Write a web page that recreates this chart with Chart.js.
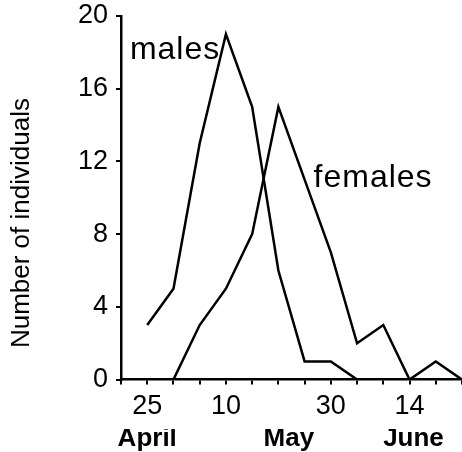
<!DOCTYPE html>
<html>
<head>
<meta charset="utf-8">
<script src="https://cdn.jsdelivr.net/npm/chart.js@4"></script>
<style>
  html, body { margin: 0; padding: 0; background: #fff; }
  #wrap { width: 462px; height: 452px; }
</style>
</head>
<body>
<div id="wrap"><canvas id="chart" width="462" height="452"></canvas></div>
<script>
// 5-day sampling, starting 20 April
const dayLabels = ['', '25', '', '', '10', '', '', '', '30', '', '', '14', '', ''];
const males = [null, 3, 5, 13, 19, 15, 6, 1, 1, 0, null, null, null, null];
const females = [null, null, 0, 3, 5, 8, 15, 11, 7, 2, 3, 0, 1, 0];
const monthLabels = ['April', 'May', 'June'];
const monthAt = [1, 6.4, 11.15];
const yTicks = [0, 4, 8, 12, 16, 20];

const FONT = 'Arial, "Liberation Sans", Helvetica, sans-serif';

const seriesNames = {
  id: 'seriesNames',
  afterDatasetsDraw(chart) {
    const { ctx, scales } = chart;
    ctx.save();
    ctx.fillStyle = '#000';
    ctx.font = '32px ' + FONT;
    if ('letterSpacing' in ctx) ctx.letterSpacing = '1px';
    ctx.textBaseline = 'middle';
    ctx.textAlign = 'left';
    ctx.fillText('males', scales.x.getPixelForValue(0.34), scales.y.getPixelForValue(18.1));
    ctx.fillText('females', scales.x.getPixelForValue(7.34), scales.y.getPixelForValue(11.1));
    ctx.restore();
  }
};

const noSidePad = (scale) => { scale.paddingLeft = 0; scale.paddingRight = 0; };

new Chart(document.getElementById('chart').getContext('2d'), {
  type: 'line',
  data: {
    labels: dayLabels,
    datasets: [
      { label: 'males', data: males, borderColor: '#000', borderWidth: 2.5, pointRadius: 0, tension: 0 },
      { label: 'females', data: females, borderColor: '#000', borderWidth: 2.5, pointRadius: 0, tension: 0 },
    ],
  },
  options: {
    responsive: false,
    animation: false,
    layout: { padding: { top: 16, right: 0, bottom: 0, left: 0 } },
    plugins: { legend: { display: false }, tooltip: { enabled: false } },
    scales: {
      x: {
        type: 'category',
        offset: false,
        afterFit: noSidePad,
        border: { color: '#000', width: 2.5 },
        grid: { drawOnChartArea: false, color: '#000', lineWidth: 2, tickLength: 5 },
        ticks: { autoSkip: false, maxRotation: 0, color: '#000', padding: 6, font: { family: FONT, size: 27 } },
      },
      x2: {
        type: 'linear',
        position: 'bottom',
        min: 0,
        max: dayLabels.length - 1,
        grid: { display: false, drawTicks: false },
        border: { display: false },
        afterBuildTicks: (scale) => { scale.ticks = monthAt.map((v) => ({ value: v })); },
        afterFit: (scale) => { noSidePad(scale); scale.height = 23; },
        ticks: {
          color: '#000',
          padding: -6,
          font: { family: FONT, size: 26, weight: 'bold' },
          callback: (v) => monthLabels[monthAt.indexOf(v)] || '',
        },
      },
      y: {
        min: 0,
        max: 20,
        afterBuildTicks: (scale) => { scale.ticks = yTicks.map((v) => ({ value: v })); },
        afterFit: (scale) => { scale.width = 121; scale.paddingTop = 0; scale.paddingBottom = 0; },
        border: { color: '#000', width: 2.5 },
        grid: { drawOnChartArea: false, color: '#000', lineWidth: 2, tickLength: 5 },
        ticks: { color: '#000', padding: 8, font: { family: FONT, size: 27 } },
        title: {
          display: true,
          // trailing no-break spaces nudge the rotated title down, as in the original
          text: 'Number of individuals' + '\u00a0'.repeat(7),
          color: '#000',
          padding: { top: 6, bottom: 0 },
          font: { family: FONT, size: 26 },
        },
      },
    },
  },
  plugins: [seriesNames],
});
</script>
</body>
</html>
